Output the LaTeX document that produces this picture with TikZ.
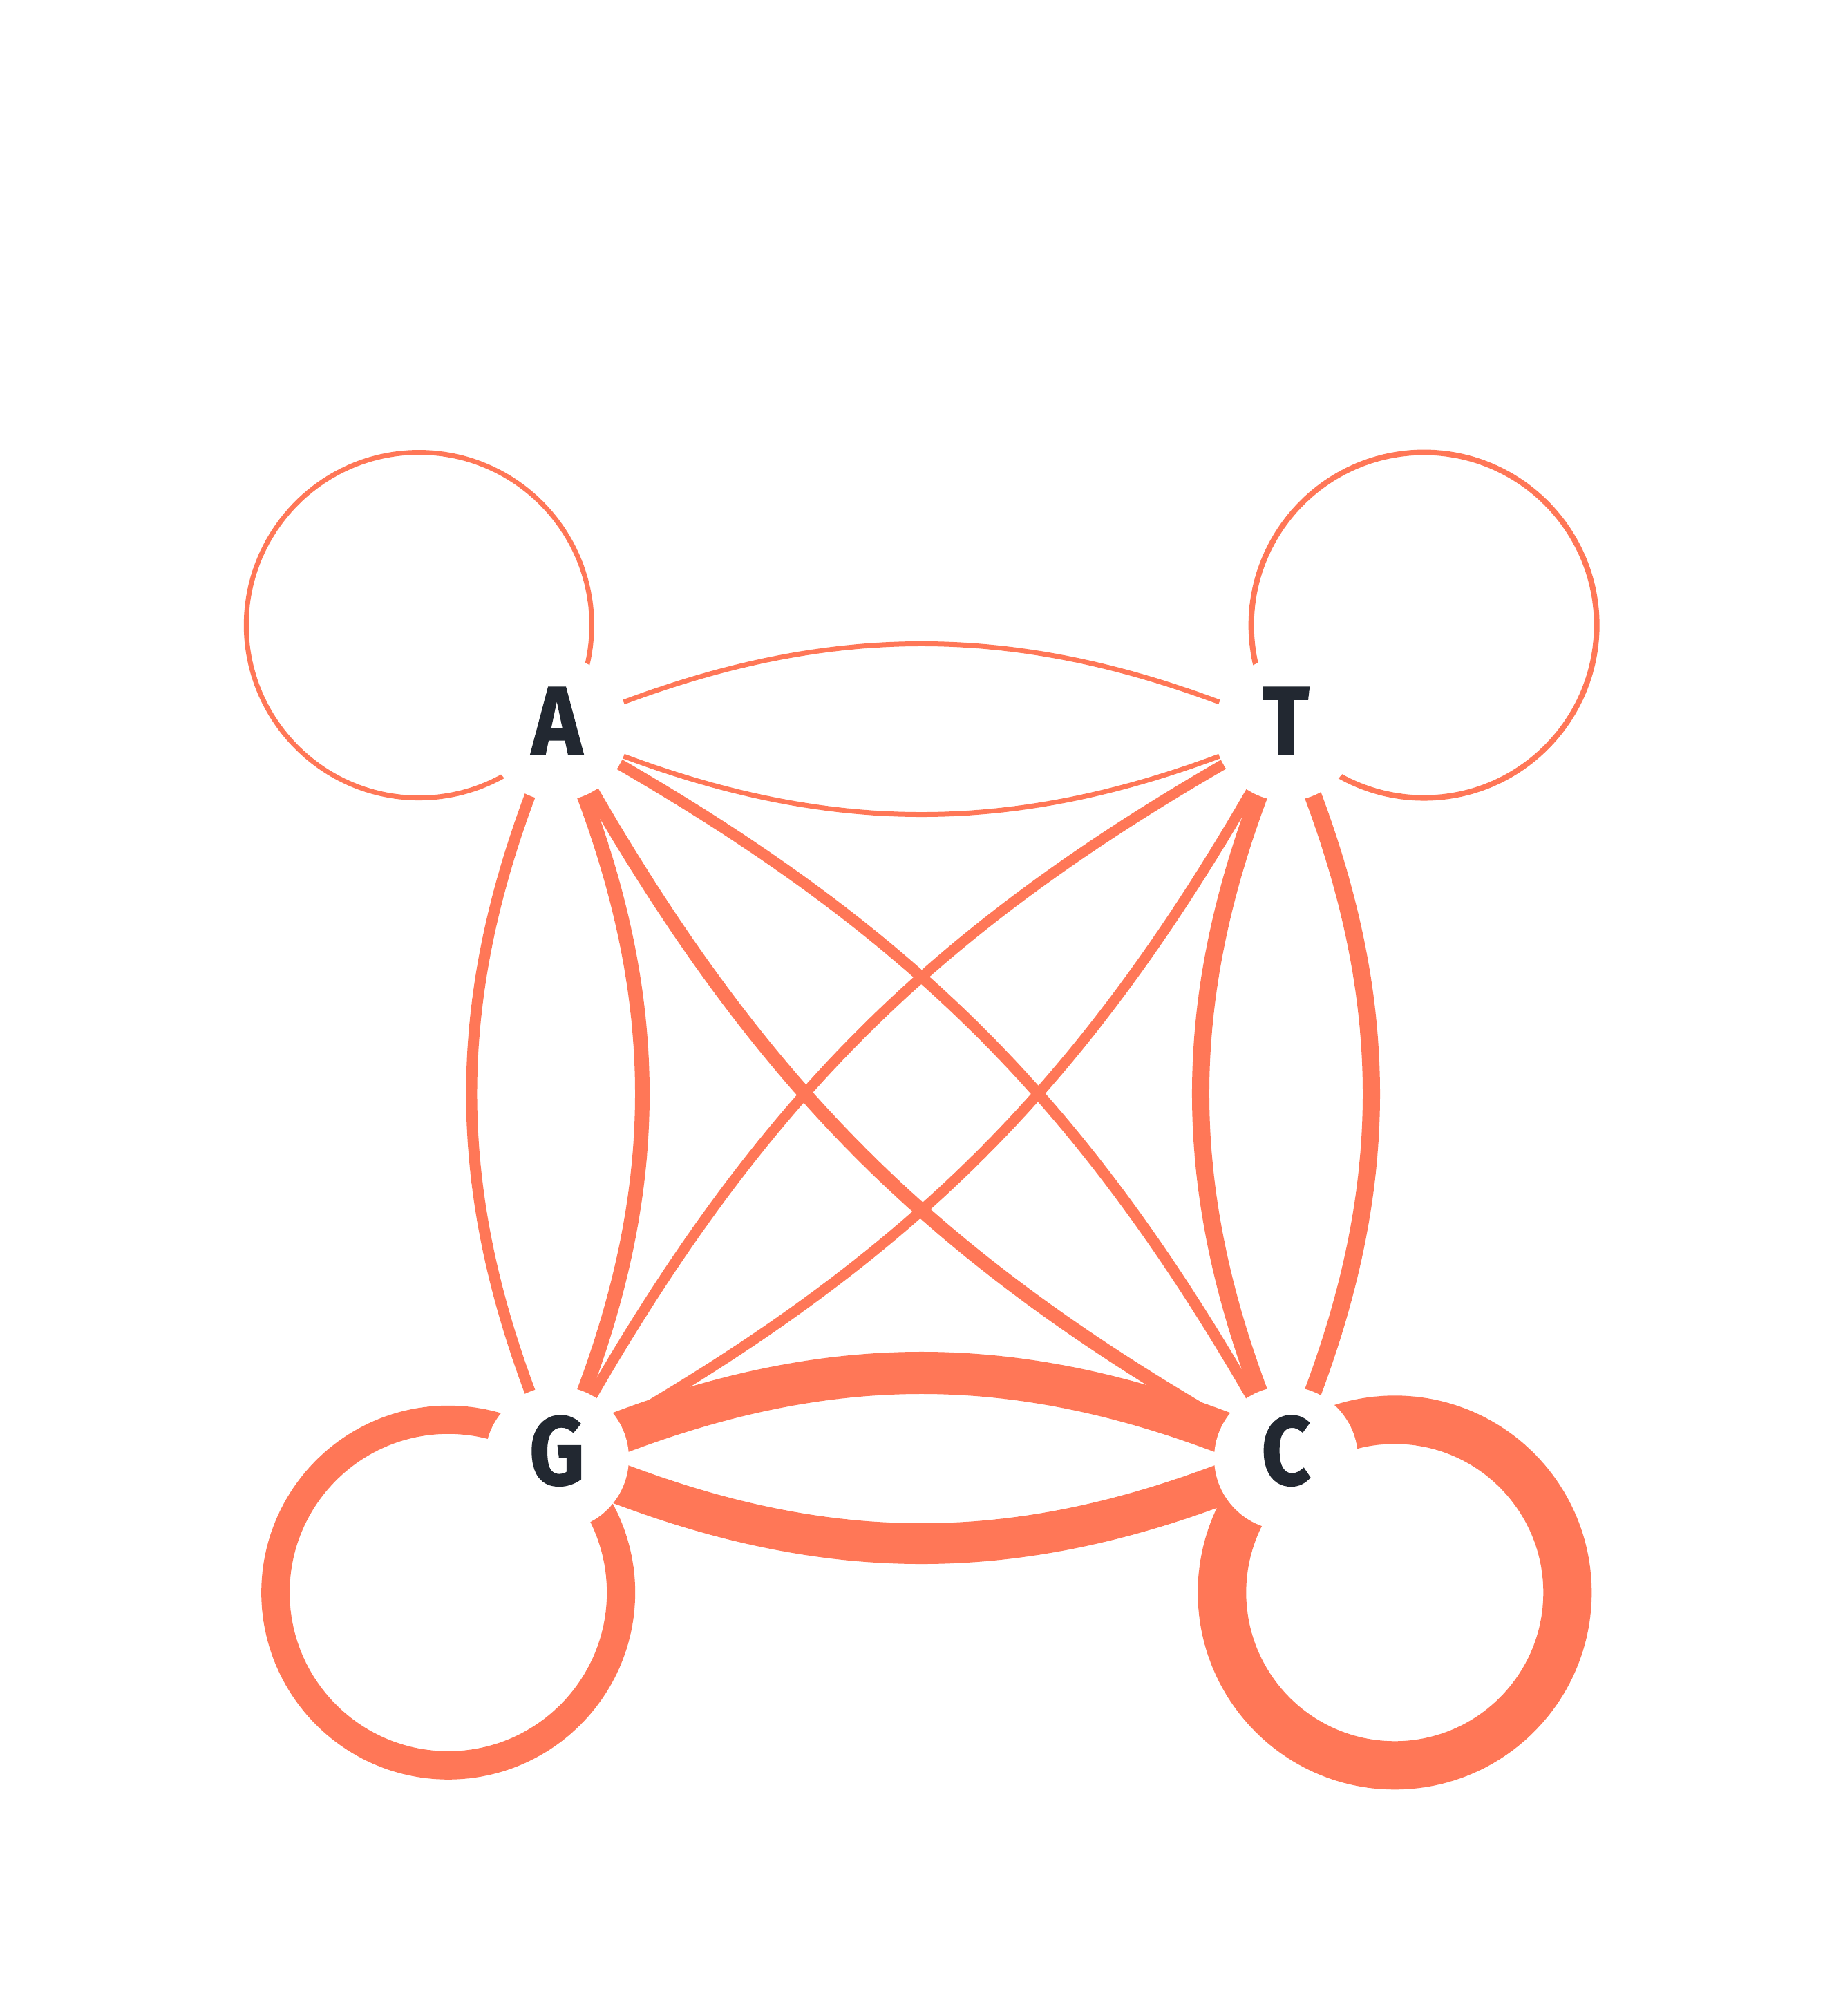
\documentclass[tikz,border=0pt]{standalone}
\usepackage{fontspec}
\newfontfamily\statefont[FakeStretch=0.88,FakeBold=1.2]{Fira Sans}
\pgfdeclarelayer{bg}
\pgfsetlayers{bg,main}
\definecolor{flowcol}{RGB}{255,119,87}
\definecolor{inkcol}{RGB}{34,40,49}
\tikzset{
  base/.style={circle, fill=white, minimum size=2.08cm, inner sep=0pt, text=inkcol,
    font=\statefont\bfseries\fontsize{40}{40}\selectfont, text depth=0.24cm},
  flow/.style={draw=flowcol, line width=#1},
}
\begin{document}
\begin{tikzpicture}
\useasboundingbox (-8.06,-18.62) rectangle (18.61,10.55);

\node[base] (A) at (0,0) {A};
\node[base] (T) at (10.55,0) {T};
\node[base] (G) at (0,-10.55) {G};
\node[base] (C) at (10.55,-10.55) {C};

\begin{pgfonlayer}{bg}
% self loops
\draw[flow=0.07cm] (A.center) ++(143:2.5) circle[radius=2.5];
\draw[flow=0.08cm] (T.center) ++(37:2.5) circle[radius=2.5];
\draw[flow=0.41cm] (G.center) ++(231:2.5) circle[radius=2.5];
\draw[flow=0.70cm] (C.center) ++(309:2.5) circle[radius=2.5];

% sides
\draw[flow=0.07cm] (A.center) to[bend left=23.6] (T.center);
\draw[flow=0.07cm] (T.center) to[bend left=23.6] (A.center);
\draw[flow=0.21cm] (A.center) to[bend left=23.6] (G.center);
\draw[flow=0.16cm] (G.center) to[bend left=23.6] (A.center);
\draw[flow=0.25cm] (T.center) to[bend left=23.6] (C.center);
\draw[flow=0.25cm] (C.center) to[bend left=23.6] (T.center);
\draw[flow=0.61cm] (G.center) to[bend left=23.6] (C.center);
\draw[flow=0.59cm] (C.center) to[bend left=23.6] (G.center);

% diagonals
\draw[flow=0.16cm] (A.center) to[bend left=16.3] (C.center);
\draw[flow=0.20cm] (C.center) to[bend left=16.3] (A.center);
\draw[flow=0.15cm] (T.center) to[bend left=16.3] (G.center);
\draw[flow=0.15cm] (G.center) to[bend left=16.3] (T.center);
\end{pgfonlayer}
\end{tikzpicture}
\end{document}
